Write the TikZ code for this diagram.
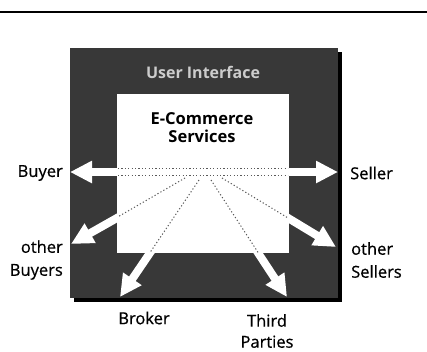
\documentclass[tikz,border=0pt]{standalone}
\usepackage{fontspec}
\setmainfont{Open Sans}
\newfontfamily\lblfont{Open Sans}[FakeBold=0.6]
\usetikzlibrary{arrows.meta}
\tikzset{
  lbl/.style={font=\lblfont\fontsize{16.5}{23}\selectfont, inner sep=0pt},
  flow/.style={draw=white, line width=8pt, -{Triangle[width=21pt,length=22pt]}},
  trace/.style={draw=black!65, line width=1pt, dash pattern=on 1.2pt off 2.2pt},
}
\begin{document}
\begin{tikzpicture}[x=1pt,y=-1pt]
\useasboundingbox (0,0) rectangle (427,351);
% top rule
\coordinate (ruleL) at (0,12);
\coordinate (ruleR) at (427,12);
\draw[line width=1.6pt] (ruleL) -- (ruleR);
% user interface frame with shadow
\fill[black] (74,52) rectangle (342,302);
\fill[black!78] (70,48) rectangle (338,298);
\node[font=\fontsize{16}{18}\selectfont\bfseries, text=white!80!black, inner sep=0pt] (ui) at (203,72) {User Interface};
% e-commerce services box
\fill[white] (117,94) rectangle (289,253);
\node[font=\fontsize{16.5}{18}\selectfont\bfseries, align=center, inner sep=0pt] (ecs) at (202,128) {E-Commerce\\Services};
% arrow ends
\coordinate (c) at (205,172);
\coordinate (cL) at (193,175);
\coordinate (cR) at (217,175);
\coordinate (tBuyer) at (70,172);
\coordinate (tSeller) at (338,172);
\coordinate (tOB) at (71,244);
\coordinate (tOS) at (336,247);
\coordinate (tBroker) at (120,297);
\coordinate (tThird) at (287,297);
% arrows
\draw[flow] (c) -- (tBuyer);
\draw[flow] (c) -- (tSeller);
\draw[flow] (cL) -- (tOB);
\draw[flow] (cR) -- (tOS);
\draw[flow] (c) -- (tBroker);
\draw[flow] (c) -- (tThird);
% faint traces inside the white box
\begin{scope}
\clip (118,95) rectangle (288,252);
\coordinate (hL1) at (118,168);
\coordinate (hR1) at (288,168);
\coordinate (hL2) at (118,175);
\coordinate (hR2) at (288,175);
\draw[trace] (hL1) -- (hR1);
\draw[trace] (hL2) -- (hR2);
\coordinate (dOB) at (185,178);
\coordinate (dOS) at (222,178);
\coordinate (dBr) at (199,180);
\coordinate (dTh) at (211,180);
\draw[trace] (dOB) -- (tOB);
\draw[trace] (dOS) -- (tOS);
\draw[trace] (dBr) -- (tBroker);
\draw[trace] (dTh) -- (tThird);
\end{scope}
% labels
\node[lbl, anchor=east] (buyer) at (63,173) {Buyer};
\node[lbl, anchor=west] (seller) at (350,173) {Seller};
\node[lbl, anchor=east, align=right] (obuyers) at (63,260) {other\\Buyers};
\node[lbl, anchor=west, align=left] (osellers) at (351,260) {other\\Sellers};
\node[lbl] (broker) at (144,318) {Broker};
\node[lbl, align=center, font=\lblfont\fontsize{16.5}{21}\selectfont] (third) at (267,331) {Third\\Parties};
\end{tikzpicture}
\end{document}
